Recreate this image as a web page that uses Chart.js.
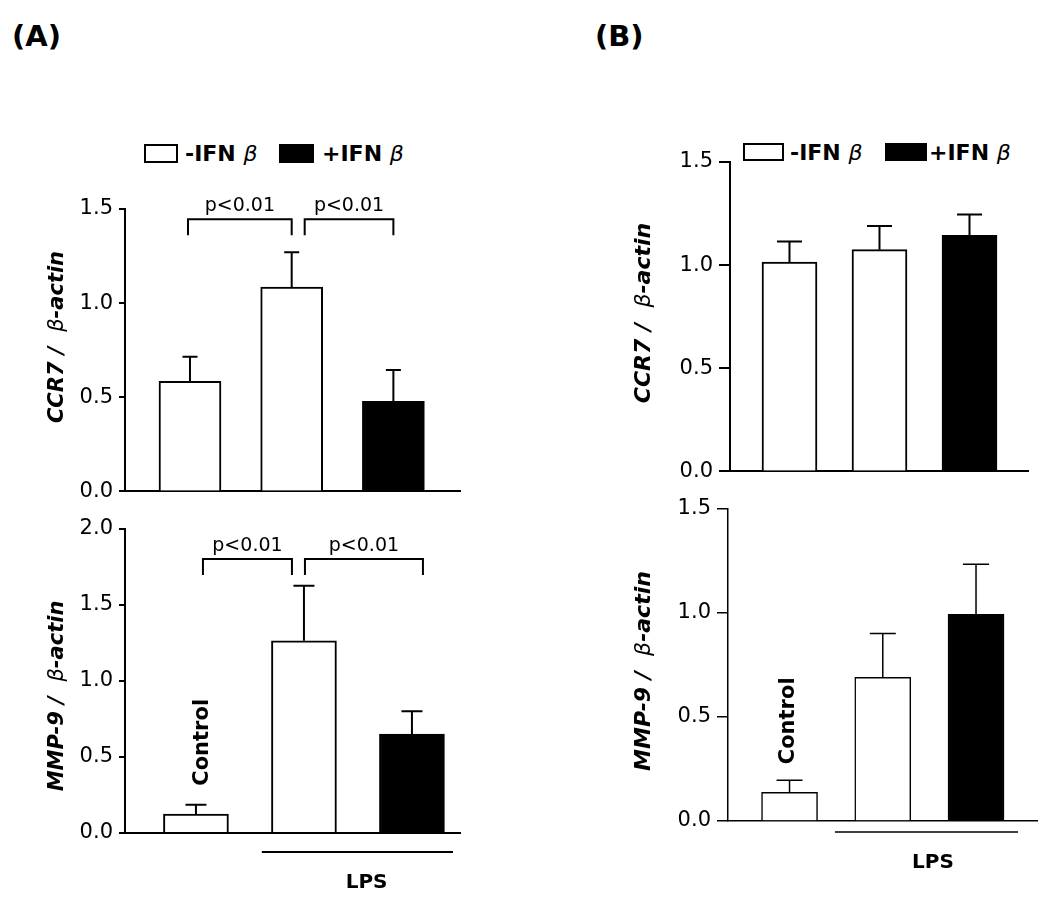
<!DOCTYPE html>
<html>
<head>
<meta charset="utf-8">
<title>CCR7 / MMP-9 expression</title>
<script src="https://cdn.jsdelivr.net/npm/chart.js@4.4.0/dist/chart.umd.min.js"></script>
<style>
  body { margin: 0; background: #fff; }
  #page { position: relative; width: 1050px; height: 909px; overflow: hidden;
          font-family: 'DejaVu Sans', Verdana, sans-serif; color: #000; }
  canvas { position: absolute; }
  .lbl { position: absolute; white-space: nowrap; line-height: 1; }
  .panel { font-weight: bold; }
  .ytitle { font-weight: bold; font-style: italic; transform: translate(-50%, -50%) rotate(-90deg); }
  .beta { font-weight: normal; font-style: italic; }
  .legend { font-weight: bold; }
  .box { position: absolute; border: 2px solid #000; box-sizing: border-box; }
</style>
</head>
<body>
<div id="page">
  <div class="lbl panel" style="left:12px;top:22px;font-size:29px">(A)</div>
  <div class="lbl panel" style="left:595px;top:22px;font-size:29px">(B)</div>

  <!-- legend A -->
  <div class="box" style="left:144px;top:144px;width:34px;height:19px;background:#fff"></div>
  <div class="lbl legend" style="left:185px;top:143px;font-size:22px">-IFN <span class="beta">β</span></div>
  <div class="box" style="left:279px;top:144px;width:35px;height:19px;background:#000"></div>
  <div class="lbl legend" style="left:322px;top:143px;font-size:22px">+IFN <span class="beta">β</span></div>

  <!-- legend B -->
  <div class="box" style="left:743px;top:143px;width:41px;height:18px;background:#fff"></div>
  <div class="lbl legend" style="left:790px;top:142px;font-size:22px">-IFN <span class="beta">β</span></div>
  <div class="box" style="left:885px;top:143px;width:42px;height:18px;background:#000"></div>
  <div class="lbl legend" style="left:929px;top:142px;font-size:22px">+IFN <span class="beta">β</span></div>

  <canvas id="a1" width="480" height="330" style="left:0;top:180px"></canvas>
  <canvas id="a2" width="480" height="399" style="left:0;top:510px"></canvas>
  <canvas id="b1" width="490" height="360" style="left:560px;top:130px"></canvas>
  <canvas id="b2" width="490" height="419" style="left:560px;top:490px"></canvas>

  <div class="lbl ytitle" style="left:56px;top:337px;font-size:21px">CCR7 /&nbsp; <span class="beta">β</span>-actin</div>
  <div class="lbl ytitle" style="left:56px;top:696px;font-size:21px">MMP-9 /&nbsp; <span class="beta">β</span>-actin</div>
  <div class="lbl ytitle" style="left:643px;top:313px;font-size:22px">CCR7 /&nbsp; <span class="beta">β</span>-actin</div>
  <div class="lbl ytitle" style="left:643px;top:671px;font-size:22px">MMP-9 /&nbsp; <span class="beta">β</span>-actin</div>
</div>

<script>
// groups on the x axis, and which of them got IFN-beta
const groups = ['Control', 'LPS -IFNβ', 'LPS +IFNβ'];
const ifnBeta = [false, false, true];

// (A) mean and SEM
const ccr7A = [0.585, 1.085, 0.479];
const ccr7ASem = [0.13, 0.185, 0.166];
const mmp9A = [0.125, 1.265, 0.651];
const mmp9ASem = [0.061, 0.362, 0.15];

// (B)
const ccr7B = [1.015, 1.075, 1.145];
const ccr7BSem = [0.10, 0.115, 0.10];
const mmp9B = [0.138, 0.691, 0.994];
const mmp9BSem = [0.058, 0.211, 0.24];

// y tick labels
const ticks15 = [0, 0.5, 1.0, 1.5];
const ticks20 = [0, 0.5, 1.0, 1.5, 2.0];

const FONT = "'DejaVu Sans', Verdana, sans-serif";
Chart.defaults.font.family = FONT;
Chart.defaults.color = '#000';
Chart.defaults.animation = false;

// draws error bars, significance brackets, Control / LPS labels
function annotations(p) {
    return {
        id: 'annot_' + p.id,
        afterDatasetsDraw(chart) {
            const ctx = chart.ctx;
            const xs = chart.scales.x, ys = chart.scales.y;
            const bars = chart.getDatasetMeta(0).data;
            ctx.save();
            ctx.strokeStyle = '#000';
            ctx.fillStyle = '#000';
            ctx.lineWidth = p.lw;

            // SEM, upper half only
            bars.forEach((bar, i) => {
                const top = ys.getPixelForValue(p.values[i] + p.sem[i]);
                ctx.beginPath();
                ctx.moveTo(bar.x, bar.y);
                ctx.lineTo(bar.x, top);
                ctx.moveTo(bar.x - p.capW / 2, top);
                ctx.lineTo(bar.x + p.capW / 2, top);
                ctx.stroke();
            });

            // p-value brackets
            (p.brackets || []).forEach(b => {
                const x0 = bars[b.from].x + b.dl;
                const x1 = bars[b.to].x + b.dr;
                const y = ys.getPixelForValue(b.y);
                ctx.beginPath();
                ctx.moveTo(x0, y + 16);
                ctx.lineTo(x0, y);
                ctx.lineTo(x1, y);
                ctx.lineTo(x1, y + 16);
                ctx.stroke();
                ctx.font = '19px ' + FONT;
                ctx.textAlign = 'center';
                ctx.textBaseline = 'alphabetic';
                ctx.fillText(b.label, (x0 + x1) / 2, y - 8);
            });

            // LPS underline
            if (p.lps) {
                const y = ys.bottom + p.lps.dy;
                ctx.beginPath();
                ctx.moveTo(xs.getPixelForValue(p.lps.x0), y);
                ctx.lineTo(xs.getPixelForValue(p.lps.x1), y);
                ctx.stroke();
                ctx.font = 'bold 20px ' + FONT;
                ctx.textAlign = 'center';
                ctx.fillText('LPS', xs.getPixelForValue(p.lps.tx), ys.bottom + p.lps.ty);
            }

            // rotated Control label above the first bar
            if (p.control) {
                const b = bars[0];
                const y = ys.getPixelForValue(p.values[0] + p.sem[0]) - p.control.gap;
                ctx.translate(b.x + p.control.dx, y);
                ctx.rotate(-Math.PI / 2);
                ctx.font = 'bold 21px ' + FONT;
                ctx.textAlign = 'left';
                ctx.textBaseline = 'middle';
                ctx.fillText(groups[0], 0, 0);
            }
            ctx.restore();
        }
    };
}

function makePanel(p) {
    const data = groups.map((g, i) => ({ x: i + 1, y: p.values[i] }));
    new Chart(document.getElementById(p.id), {
        type: 'bar',
        data: {
            datasets: [{
                label: p.id,
                data: data,
                backgroundColor: ifnBeta.map(t => t ? '#000' : '#fff'),
                borderColor: '#000',
                borderWidth: p.lw,
                borderSkipped: 'start',
                barThickness: p.barW,
                clip: false
            }]
        },
        options: {
            responsive: false,
            maintainAspectRatio: false,
            layout: { padding: p.pad },
            plugins: { legend: { display: false }, tooltip: { enabled: false } },
            scales: {
                x: {
                    type: 'linear',
                    offset: false,
                    min: p.xRange[0],
                    max: p.xRange[1],
                    ticks: { display: false },
                    grid: { display: false, offset: false },
                    border: { display: true, color: '#000', width: p.lw },
                    afterFit: s => { s.height = 0; }
                },
                y: {
                    min: 0,
                    max: p.ticks[p.ticks.length - 1],
                    afterBuildTicks: s => { s.ticks = p.ticks.map(v => ({ value: v })); },
                    ticks: {
                        callback: v => v.toFixed(1),
                        font: { size: 21 },
                        color: '#000',
                        padding: p.tickPad
                    },
                    grid: {
                        drawOnChartArea: false,
                        drawTicks: true,
                        tickLength: p.tickLen,
                        color: '#000',
                        lineWidth: p.lw
                    },
                    border: { display: true, color: '#000', width: p.lw },
                    afterFit: s => { s.width = p.yWidth; }
                }
            }
        },
        plugins: [annotations(p)]
    });
}

makePanel({
    id: 'a1', values: ccr7A, sem: ccr7ASem, ticks: ticks15,
    pad: { left: 0, top: 29, right: 20, bottom: 18 }, yWidth: 125,
    xRange: [0.361, 3.655], barW: 62, capW: 15, tickLen: 6, tickPad: 6, lw: 2,
    brackets: [
        { from: 0, to: 1, y: 1.445, dl: -2, dr: 0, label: 'p<0.01' },
        { from: 1, to: 2, y: 1.445, dl: 13, dr: 0, label: 'p<0.01' }
    ]
});

makePanel({
    id: 'a2', values: mmp9A, sem: mmp9ASem, ticks: ticks20,
    pad: { left: 0, top: 19, right: 20, bottom: 76 }, yWidth: 125,
    xRange: [0.343, 3.445], barW: 65, capW: 21, tickLen: 6, tickPad: 6, lw: 2,
    brackets: [
        { from: 0, to: 1, y: 1.803, dl: 7, dr: -12, label: 'p<0.01' },
        { from: 1, to: 2, y: 1.803, dl: 1, dr: 11, label: 'p<0.01' }
    ],
    lps: { x0: 1.61, x1: 3.38, dy: 19, tx: 2.58, ty: 55 },
    control: { dx: 7, gap: 19 }
});

makePanel({
    id: 'b1', values: ccr7B, sem: ccr7BSem, ticks: ticks15,
    pad: { left: 0, top: 32, right: 22, bottom: 18 }, yWidth: 170,
    xRange: [0.339, 3.65], barW: 55, capW: 25, tickLen: 11, tickPad: 6, lw: 2
});

makePanel({
    id: 'b2', values: mmp9B, sem: mmp9BSem, ticks: ticks15,
    pad: { left: 0, top: 19, right: 13, bottom: 88 }, yWidth: 168,
    xRange: [0.34, 3.654], barW: 56, capW: 26, tickLen: 11, tickPad: 6, lw: 1.5,
    lps: { x0: 1.487, x1: 3.45, dy: 11, tx: 2.538, ty: 47 },
    control: { dx: -1, gap: 16 }
});
</script>
</body>
</html>
